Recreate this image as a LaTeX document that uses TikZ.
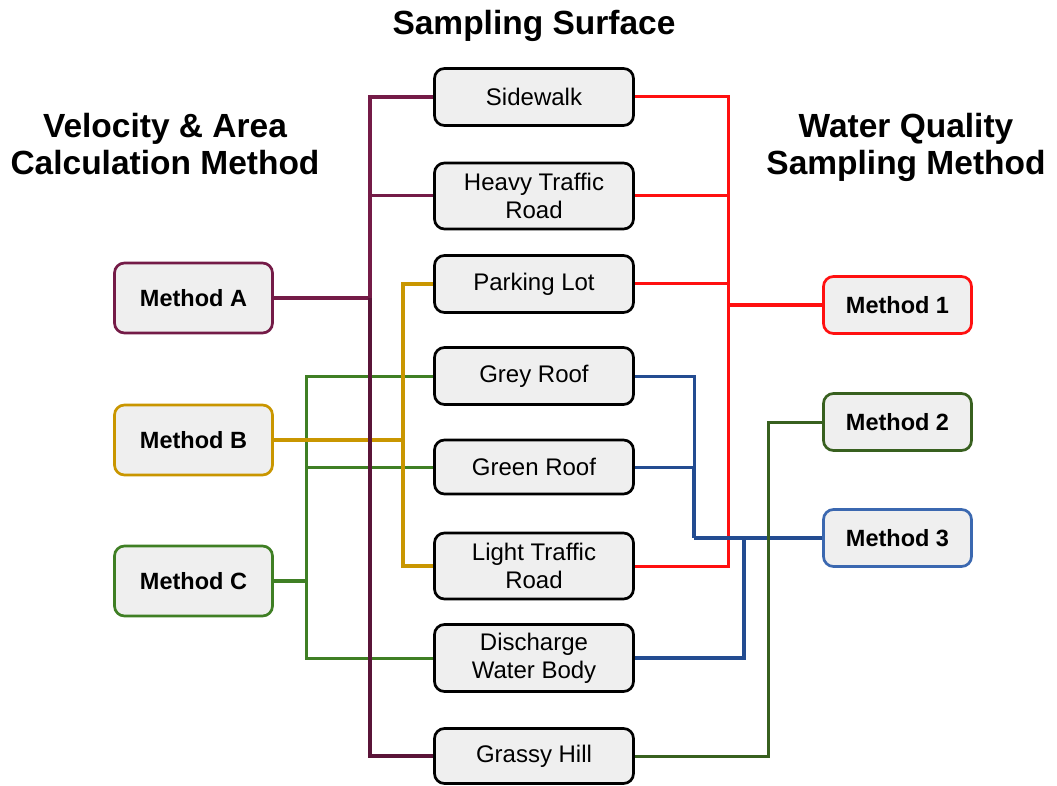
\documentclass[tikz,border=0pt]{standalone}
\usepackage{fontspec}
\setmainfont{Liberation Sans}
\begin{document}
\begin{tikzpicture}[x=1pt,y=-1pt,
  box/.style={draw=black, line width=2.7pt, rounded corners=10pt, fill=boxgray,
    align=center, inner sep=0pt, font=\fontsize{24}{28}\selectfont},
  surf/.style={box, minimum width=199pt},
  meth/.style={box, minimum width=158pt, minimum height=70pt,
    font=\fontsize{23.5}{28}\bfseries\selectfont},
  methR/.style={box, minimum width=148pt, minimum height=57pt,
    font=\fontsize{23.5}{28}\bfseries\selectfont},
  title/.style={align=center, font=\fontsize{33.5}{37}\bfseries\selectfont},
  thin/.style={line width=3pt},
  thick/.style={line width=4.6pt},
]
\definecolor{boxgray}{HTML}{EFEFEF}
\definecolor{cA}{HTML}{741B47}
\definecolor{cAd}{HTML}{5A1438}
\definecolor{cB}{HTML}{C99600}
\definecolor{cC}{HTML}{3F7F24}
\definecolor{c1}{HTML}{FF1010}
\definecolor{c2}{HTML}{38601F}
\definecolor{c3}{HTML}{234C91}
\definecolor{c3b}{HTML}{3B68B0}

\useasboundingbox (0,0) rectangle (1057,786);

% titles
\node[title] (tS) at (534,26) {Sampling Surface};
\node[title] (tL) at (165,144) {Velocity \& Area\\Calculation Method};
\node[title] (tR) at (906,147) {Water Quality\\Sampling Method};

% sampling surfaces
\node[surf, minimum height=57pt] (sw)  at (534,97)  {Sidewalk};
\node[surf, minimum height=66pt] (htr) at (534,196) {Heavy Traffic\\Road};
\node[surf, minimum height=57pt] (pl)  at (534,284) {Parking Lot};
\node[surf, minimum height=57pt] (gry) at (534,376) {Grey Roof};
\node[surf, minimum height=54pt] (grn) at (534,467) {Green Roof};
\node[surf, minimum height=66pt] (ltr) at (534,566) {Light Traffic\\Road};
\node[surf, minimum height=67pt] (dwb) at (534,658) {Discharge\\Water Body};
\node[surf, minimum height=55pt] (gh)  at (534,756) {Grassy Hill};

% velocity & area methods
\node[meth, draw=cA] (mA) at (193.5,298) {Method A};
\node[meth, draw=cB] (mB) at (193.5,440) {Method B};
\node[meth, draw=cC] (mC) at (193.5,581) {Method C};

% water quality methods
\node[methR, draw=c1] (m1) at (897.5,305) {Method 1};
\node[methR, draw=c2] (m2) at (897.5,422) {Method 2};
\node[methR, draw=c3b] (m3) at (897.5,538) {Method 3};

% junction points
\coordinate (jA) at (370,298);
\coordinate (jB) at (403,440);
\coordinate (jC) at (306,581);
\coordinate (j1) at (728,305);
\coordinate (j2) at (768,422);
\coordinate (j3) at (694,538);
\coordinate (j3g) at (694,467);
\coordinate (j3d) at (744,538);

% Method C
\draw[thin, cC] (gry.west) -| (jC);
\draw[thin, cC] (grn.west) -| (jC);
\draw[thin, cC] (dwb.west) -| (jC);
\draw[thick, cC] (mC.east) -- (jC);

% Method B
\draw[thick, cB] (pl.west) -| (jB);
\draw[thick, cB] (ltr.west) -| (jB);
\draw[thick, cB] (mB.east) -- (jB);

% Method A
\draw[thick, cA] (sw.west) -| (jA);
\draw[thin, cA] (htr.west) -| (jA);
\draw[thick, cA] (mA.east) -- (jA);
\draw[thick, cAd] (jA) |- (gh.west);

% Method 1
\draw[thin, c1] (sw.east) -| (j1);
\draw[thin, c1] (htr.east) -| (j1);
\draw[thin, c1] (pl.east) -| (j1);
\draw[thin, c1] (ltr.east) -| (j1);
\draw[thick, c1] (j1) -- (m1.west);

% Method 3
\draw[thin, c3] (gry.east) -| (j3g);
\draw[thin, c3] (grn.east) -- (j3g);
\draw[thick, c3] (j3g) -- (j3);
\draw[thick, c3] (dwb.east) -| (j3d);
\draw[thick, c3] (j3) -- (m3.west);

% Method 2
\draw[thin, c2] (gh.east) -| (j2) -- (m2.west);
\end{tikzpicture}
\end{document}
